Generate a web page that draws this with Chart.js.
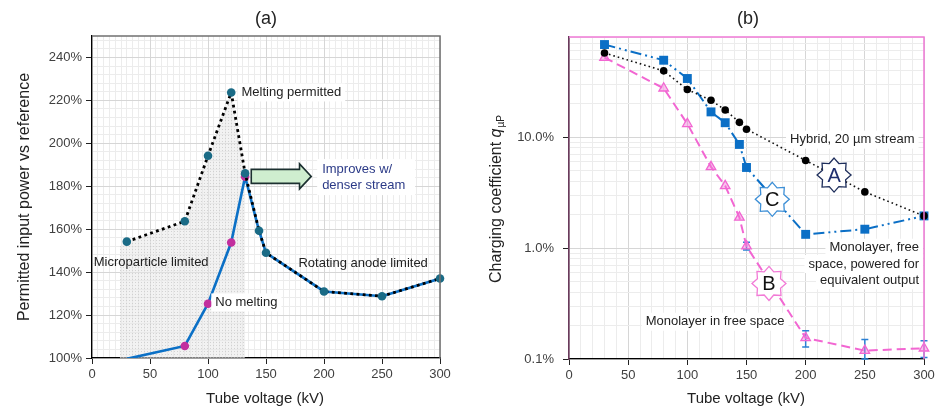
<!DOCTYPE html>
<html>
<head>
<meta charset="utf-8">
<script src="https://cdn.jsdelivr.net/npm/chart.js@4.4.1/dist/chart.umd.min.js"></script>
<style>
  body { margin: 0; background: #fff; width: 938px; height: 415px; overflow: hidden; position: relative; }
  canvas { position: absolute; top: 0; }
  #ca { left: 0; }
  #cb { left: 470px; }
</style>
</head>
<body>
<canvas id="ca" width="470" height="415"></canvas>
<canvas id="cb" width="468" height="415"></canvas>
<script>
// ---------- data, panel (a) ----------
const kvA = [30, 80, 100, 120, 132, 144, 150, 200, 250, 300];
const meltPermitted = [154.2, 163.7, 194.2, 223.7, 186, 159.3, 149, 131, 128.8, 137];
const noMelting = [99.6, 105.6, 125.3, 153.8, 184.5, 159.3, 149, 131, 128.8, 137];
const shadeKv = [24, 30, 80, 100, 120, 132, 132];
const shadeTop = [152, 154.2, 163.7, 194.2, 223.7, 186, 100];
const xTicks = [0, 50, 100, 150, 200, 250, 300];
const yTicksA = [100, 120, 140, 160, 180, 200, 220, 240];

// ---------- data, panel (b) ----------
const kvB = [30, 80, 100, 120, 132, 144, 150, 200, 250, 300];
const hybrid = [57.4, 39.6, 26.9, 21.5, 17.6, 13.6, 11.8, 6.17, 3.21, 1.95];
const monoPowered = [68.4, 49.4, 33.8, 16.9, 13.5, 8.6, 5.33, 1.33, 1.48, 1.95];
const monoFree = [52.2, 27.6, 13.2, 5.4, 3.64, 1.89, 1.04, 0.155, 0.119, 0.125];
const monoFreeLo = [null, null, null, null, null, null, 0.96, 0.128, 0.1, 0.103];
const monoFreeHi = [null, null, null, null, null, null, 1.13, 0.18, 0.15, 0.146];
const yMajorB = [0.1, 1, 10];
const yLabelsB = ['0.1%', '1.0%', '10.0%'];

const FONT = '"Liberation Sans", Arial, sans-serif';
Chart.defaults.font.family = FONT;
Chart.defaults.color = '#404040';

const pts = (xs, ys) => xs.map((x, i) => ({ x, y: ys[i] }));
const range = (a, b, s) => { const r = []; for (let v = a; v <= b + 1e-9; v += s) r.push(+v.toFixed(4)); return r; };
const setTicks = arr => s => { s.ticks = arr.map(v => ({ value: v })); };

function logGrid(min, max) {
  const out = [];
  for (let e = -1; e <= 1; e++) for (let m = 1; m <= 9; m++) {
    const v = +(m * Math.pow(10, e)).toFixed(4);
    if (v >= min && v <= max) out.push(v);
  }
  return out;
}

function text(ctx, str, x, y, o = {}) {
  ctx.save();
  ctx.font = o.font || '13px ' + FONT;
  ctx.textAlign = o.align || 'left';
  ctx.textBaseline = 'middle';
  if (o.bg) {
    const w = ctx.measureText(str).width;
    const left = o.align === 'right' ? x - w : o.align === 'center' ? x - w / 2 : x;
    ctx.fillStyle = o.bg;
    ctx.fillRect(left - 4, y - 9, w + 8, 18);
  }
  ctx.fillStyle = o.color || '#222';
  ctx.fillText(str, x, y);
  ctx.restore();
}

function vtext(ctx, str, x, y, font) {
  ctx.save();
  ctx.translate(x, y);
  ctx.rotate(-Math.PI / 2);
  text(ctx, str, 0, 0, { font, align: 'center', color: '#222' });
  ctx.restore();
}

function star(ctx, cx, cy, stroke, letter, letterColor) {
  const rOut = 17, rIn = 12.5, n = 8;
  ctx.save();
  ctx.beginPath();
  for (let i = 0; i < n * 2; i++) {
    const r = i % 2 ? rIn : rOut;
    const a = -Math.PI / 2 + i * Math.PI / n;
    ctx.lineTo(cx + r * Math.cos(a), cy + r * Math.sin(a));
  }
  ctx.closePath();
  ctx.fillStyle = '#fff';
  ctx.fill();
  ctx.strokeStyle = stroke;
  ctx.lineWidth = 1.3;
  ctx.stroke();
  text(ctx, letter, cx, cy + 1, { font: '20px ' + FONT, align: 'center', color: letterColor });
  ctx.restore();
}

// ---------- panel (a) ----------
const ctxA = document.getElementById('ca').getContext('2d');
function shadePattern(ctx) {
  const c = document.createElement('canvas');
  c.width = 3; c.height = 3;
  const g = c.getContext('2d');
  g.fillStyle = 'rgba(232,232,232,0.55)';
  g.fillRect(0, 0, 3, 3);
  g.fillStyle = 'rgba(190,190,190,0.6)';
  g.fillRect(0, 0, 1, 1);
  return ctx.createPattern(c, 'repeat');
}

const decorA = {
  id: 'decorA',
  afterDatasetsDraw(chart) {
    const { ctx, chartArea: a, scales: { x, y } } = chart;
    ctx.save();
    ctx.strokeStyle = '#707070';
    ctx.lineWidth = 1.5;
    ctx.beginPath();
    ctx.moveTo(a.left, a.top); ctx.lineTo(a.right, a.top); ctx.lineTo(a.right, a.bottom);
    ctx.stroke();

    // arrow
    const x0 = x.getPixelForValue(137.3), xb = x.getPixelForValue(178.9), xt = x.getPixelForValue(189);
    const yc = y.getPixelForValue(184.6);
    ctx.beginPath();
    ctx.moveTo(x0, yc - 7); ctx.lineTo(xb, yc - 7); ctx.lineTo(xb, yc - 12.5); ctx.lineTo(xt, yc);
    ctx.lineTo(xb, yc + 12.5); ctx.lineTo(xb, yc + 7); ctx.lineTo(x0, yc + 7); ctx.closePath();
    ctx.fillStyle = '#cfeecf'; ctx.fill();
    ctx.strokeStyle = '#1c3030'; ctx.lineWidth = 1.6; ctx.stroke();

    text(ctx, 'Melting permitted', x.getPixelForValue(128.9), y.getPixelForValue(223.7), { bg: '#fff' });
    const ix = x.getPixelForValue(198.4);
    ctx.fillStyle = '#fff';
    ctx.fillRect(ix - 5, y.getPixelForValue(188) - 10, 98, 36);
    text(ctx, 'Improves w/', ix, y.getPixelForValue(188), { color: '#2b3a87' });
    text(ctx, 'denser stream', ix, y.getPixelForValue(180.3), { color: '#2b3a87' });
    text(ctx, 'Microparticle limited', x.getPixelForValue(1.5), y.getPixelForValue(144.3));
    text(ctx, 'No melting', x.getPixelForValue(106.3), y.getPixelForValue(125.9), { bg: '#fff' });
    text(ctx, 'Rotating anode limited', x.getPixelForValue(178), y.getPixelForValue(143.9));

    text(ctx, '(a)', 266, 19, { font: '18px ' + FONT, align: 'center' });
    text(ctx, 'Tube voltage (kV)', 265, 399, { font: '15px ' + FONT, align: 'center' });
    vtext(ctx, 'Permitted input power vs reference', 25, 197, '16px ' + FONT);
    ctx.restore();
  }
};

new Chart(ctxA, {
  type: 'line',
  data: {
    datasets: [
      {
        data: pts(shadeKv, shadeTop),
        borderWidth: 0, pointRadius: 0, fill: 'start',
        backgroundColor: shadePattern(ctxA), order: 3
      },
      {
        data: pts(kvA, noMelting),
        borderColor: '#0b70c6', borderWidth: 2.6,
        pointRadius: c => (c.dataIndex >= 1 && c.dataIndex <= 4 ? 4.3 : 0),
        pointBackgroundColor: '#c22f9e', pointBorderWidth: 0, order: 2
      },
      {
        data: pts(kvA, meltPermitted),
        borderColor: '#000', borderWidth: 2.8, borderDash: [2.8, 3.4],
        pointRadius: 4.3, pointBackgroundColor: '#1a6b86', pointBorderWidth: 0, order: 1,
        clip: false
      }
    ]
  },
  options: {
    responsive: false, animation: false,
    layout: { padding: { left: 0, top: 36, right: 30, bottom: 0 } },
    plugins: { legend: { display: false }, tooltip: { enabled: false } },
    scales: {
      x: {
        type: 'linear', min: 0, max: 300,
        afterBuildTicks: setTicks(xTicks),
        ticks: { font: { size: 13 }, padding: 3, color: '#404040' },
        grid: { color: '#d6d6d6', tickLength: 6, tickColor: '#222' },
        border: { color: '#000', width: 1.3 },
        afterFit: s => { s.height = 57; }
      },
      xMinor: {
        type: 'linear', position: 'bottom', min: 0, max: 300,
        afterBuildTicks: setTicks(range(0, 300, 5)),
        ticks: { display: false },
        grid: { color: '#ececec', drawTicks: false, z: -2 },
        border: { display: false },
        afterFit: s => { s.height = 0; }
      },
      y: {
        min: 100, max: 250,
        afterBuildTicks: setTicks(yTicksA),
        ticks: { font: { size: 13 }, padding: 4, color: '#404040', callback: v => v + '%' },
        grid: { color: '#d6d6d6', tickLength: 6, tickColor: '#222' },
        border: { color: '#000', width: 1.3 },
        afterFit: s => { s.width = 92; }
      },
      yMinor: {
        position: 'left', min: 100, max: 250,
        afterBuildTicks: setTicks(range(100, 250, 4)),
        ticks: { display: false },
        grid: { color: '#ececec', drawTicks: false, z: -2 },
        border: { display: false },
        afterFit: s => { s.width = 0; }
      }
    }
  },
  plugins: [decorA]
});

// ---------- panel (b) ----------
const isMajor = v => yMajorB.some(m => Math.abs(m - v) < 1e-9);

const decorB = {
  id: 'decorB',
  beforeDatasetsDraw(chart) {
    const { ctx, scales: { x, y } } = chart;
    ctx.save();
    ctx.strokeStyle = '#2a80d4';
    ctx.lineWidth = 1.5;
    kvB.forEach((kv, i) => {
      if (monoFreeLo[i] == null) return;
      const px = x.getPixelForValue(kv), y0 = y.getPixelForValue(monoFreeLo[i]), y1 = y.getPixelForValue(monoFreeHi[i]);
      ctx.beginPath();
      ctx.moveTo(px, y0); ctx.lineTo(px, y1);
      ctx.moveTo(px - 3.5, y0); ctx.lineTo(px + 3.5, y0);
      ctx.moveTo(px - 3.5, y1); ctx.lineTo(px + 3.5, y1);
      ctx.stroke();
    });
    ctx.restore();
  },
  afterDatasetsDraw(chart) {
    const { ctx, chartArea: a, scales: { x, y } } = chart;
    ctx.save();
    ctx.strokeStyle = '#f07ad6';
    ctx.lineWidth = 1.5;
    ctx.beginPath();
    ctx.moveTo(a.left, a.top); ctx.lineTo(a.right, a.top); ctx.lineTo(a.right, a.bottom);
    ctx.stroke();

    text(ctx, 'Hybrid, 20 µm stream', x.getPixelForValue(186.8), y.getPixelForValue(9.5), { bg: '#fff' });
    const rx = x.getPixelForValue(295.8), ry = y.getPixelForValue(1.007);
    text(ctx, 'Monolayer, free', rx, ry, { bg: '#fff', align: 'right' });
    text(ctx, 'space, powered for', rx, ry + 16.3, { bg: '#fff', align: 'right' });
    text(ctx, 'equivalent output', rx, ry + 32.6, { bg: '#fff', align: 'right' });
    text(ctx, 'Monolayer in free space', x.getPixelForValue(64.8), y.getPixelForValue(0.2168), { bg: '#fff' });

    star(ctx, x.getPixelForValue(224), y.getPixelForValue(4.55), '#1f2f5c', 'A', '#1f2f70');
    star(ctx, x.getPixelForValue(171.8), y.getPixelForValue(2.75), '#3d8fd6', 'C', '#111');
    star(ctx, x.getPixelForValue(169), y.getPixelForValue(0.48), '#f27ad6', 'B', '#111');

    text(ctx, '(b)', 278, 19, { font: '18px ' + FONT, align: 'center' });
    text(ctx, 'Tube voltage (kV)', 276, 399, { font: '15px ' + FONT, align: 'center' });

    // y title with italic q and subscript
    ctx.translate(26.7, 199);
    ctx.rotate(-Math.PI / 2);
    ctx.textBaseline = 'middle';
    ctx.fillStyle = '#222';
    const f1 = '16px ' + FONT, f2 = 'italic 16px ' + FONT, f3 = '10px ' + FONT;
    ctx.font = f1; const w1 = ctx.measureText('Charging coefficient ').width;
    ctx.font = f2; const w2 = ctx.measureText('q').width;
    ctx.font = f3; const w3 = ctx.measureText('µP').width;
    let sx = -(w1 + w2 + w3 + 1) / 2;
    ctx.font = f1; ctx.fillText('Charging coefficient ', sx, 0); sx += w1;
    ctx.font = f2; ctx.fillText('q', sx, 0); sx += w2 + 1;
    ctx.font = f3; ctx.fillText('µP', sx, 5);
    ctx.restore();
  }
};

new Chart(document.getElementById('cb'), {
  type: 'line',
  data: {
    datasets: [
      {
        data: pts(kvB, monoFree),
        borderColor: '#f266d2', borderWidth: 2, borderDash: [9, 5],
        pointStyle: 'triangle', pointRadius: 5.5,
        pointBackgroundColor: 'rgba(242,120,214,0.45)', pointBorderColor: '#f266d2', pointBorderWidth: 1.3,
        order: 3, clip: false
      },
      {
        data: pts(kvB, monoPowered),
        borderColor: '#0b6fc6', borderWidth: 2, borderDash: [11, 4, 2, 4, 2, 4],
        pointStyle: 'rect', pointRadius: 6.3,
        pointBackgroundColor: '#0b6fc6', pointBorderWidth: 0,
        order: 2, clip: false
      },
      {
        data: pts(kvB, hybrid),
        borderColor: '#111', borderWidth: 1.6, borderDash: [1.6, 3],
        pointRadius: 3.8, pointBackgroundColor: '#000', pointBorderWidth: 0,
        order: 1, clip: false
      }
    ]
  },
  options: {
    responsive: false, animation: false,
    layout: { padding: { left: 0, top: 37, right: 14, bottom: 0 } },
    plugins: { legend: { display: false }, tooltip: { enabled: false } },
    scales: {
      x: {
        type: 'linear', min: 0, max: 300,
        afterBuildTicks: setTicks(xTicks),
        ticks: { font: { size: 13 }, padding: 3, color: '#404040' },
        grid: { color: '#d6d6d6', tickLength: 6, tickColor: '#222' },
        border: { color: '#000', width: 1.3 },
        afterFit: s => { s.height = 56; }
      },
      xMinor: {
        type: 'linear', position: 'bottom', min: 0, max: 300,
        afterBuildTicks: setTicks(range(0, 300, 10)),
        ticks: { display: false },
        grid: { color: '#ececec', drawTicks: false, z: -2 },
        border: { display: false },
        afterFit: s => { s.height = 0; }
      },
      y: {
        type: 'logarithmic', min: 0.1, max: 80,
        afterBuildTicks: setTicks(logGrid(0.1, 80)),
        ticks: {
          autoSkip: false, font: { size: 13 }, padding: 9, color: '#404040',
          callback: v => { const i = yMajorB.findIndex(m => Math.abs(m - v) < 1e-9); return i >= 0 ? yLabelsB[i] : ''; }
        },
        grid: {
          color: c => (c.tick && isMajor(c.tick.value) ? '#d6d6d6' : '#ececec'),
          tickLength: 6,
          tickColor: c => (c.tick && isMajor(c.tick.value) ? '#222' : 'rgba(0,0,0,0)')
        },
        border: { color: '#6a3a5c', width: 1.6 },
        afterFit: s => { s.width = 99; }
      }
    }
  },
  plugins: [decorB]
});
</script>
</body>
</html>
